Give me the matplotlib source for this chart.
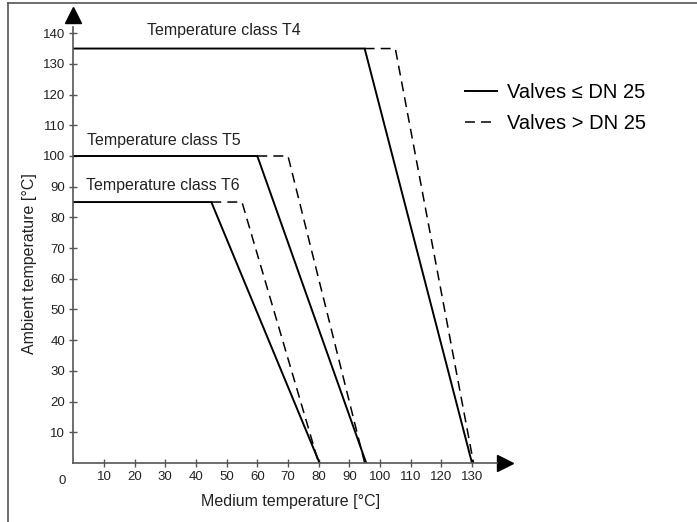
import matplotlib.pyplot as plt
from matplotlib.lines import Line2D

# temperature class curves (medium temp x, ambient temp y)
t4_solid_x = [0, 95, 130]
t4_solid_y = [135, 135, 0]
t4_dash_x = [95, 105, 130.5]
t4_dash_y = [135, 135, 0]

t5_solid_x = [0, 60, 95.5]
t5_solid_y = [100, 100, 0]
t5_dash_x = [60, 70, 95]
t5_dash_y = [100, 100, 0]

t6_solid_x = [0, 45, 80.3]
t6_solid_y = [85, 85, 0]
t6_dash_x = [45, 55, 80]
t6_dash_y = [85, 85, 0]

x_ticks = list(range(10, 140, 10))
y_ticks = list(range(10, 150, 10))
class_labels = ['Temperature class T4', 'Temperature class T5', 'Temperature class T6']
class_label_pos = [(23.9, 141.0), (4.6, 105.2), (4.2, 90.4)]
legend_labels = ['Valves \u2264 DN 25', 'Valves > DN 25']

plt.rcParams['font.family'] = ['Liberation Sans', 'DejaVu Sans']
axis_grey = '#555555'
text_col = '#222222'

fig = plt.figure(figsize=(6.97, 5.22), dpi=100)
ax = fig.add_axes([73.3 / 697, 59 / 522, 435.5 / 697, 451.3 / 522])
ax.set_xlim(0, 142)
ax.set_ylim(0, 147)

solid_kw = dict(color='black', lw=1.4, solid_joinstyle='miter')
dash_kw = dict(color='black', lw=1.1, linestyle=(0, (6.5, 4)))

ax.plot(t4_solid_x, t4_solid_y, **solid_kw)
ax.plot(t4_dash_x, t4_dash_y, **dash_kw)
ax.plot(t5_solid_x, t5_solid_y, **solid_kw)
ax.plot(t5_dash_x, t5_dash_y, **dash_kw)
ax.plot(t6_solid_x, t6_solid_y, **solid_kw)
ax.plot(t6_dash_x, t6_dash_y, **dash_kw)

for label, (lx, ly) in zip(class_labels, class_label_pos):
    ax.text(lx, ly, label, fontsize=11.5, va='center', ha='left', color=text_col)

# axes with arrows
for side in ['top', 'right']:
    ax.spines[side].set_visible(False)
for side in ['left', 'bottom']:
    ax.spines[side].set_color(axis_grey)
    ax.spines[side].set_linewidth(1.2)
ax.spines['bottom'].set_bounds(0, 138)
ax.spines['left'].set_bounds(0, 142)
ax.plot(140.8, 0, '>', color='black', markersize=11, clip_on=False)
ax.plot(0, 145.8, '^', color='black', markersize=11, clip_on=False)

ax.set_xticks(x_ticks)
ax.set_yticks(y_ticks)
ax.tick_params(direction='inout', length=6, width=1, color=axis_grey,
               labelsize=9.5, labelcolor=text_col, pad=3)
ax.text(-3.5, -3.8, '0', fontsize=9.5, ha='center', va='top', color=text_col)

ax.set_xlabel('Medium temperature [\u00b0C]', fontsize=11.5, color=text_col, labelpad=8)
ax.set_ylabel('Ambient temperature [\u00b0C]', fontsize=11.5, color=text_col)
ax.yaxis.set_label_coords(-0.084, 0.441)

handles = [Line2D([], [], **solid_kw), Line2D([], [], **dash_kw)]
ax.legend(handles, legend_labels, loc='upper left', bbox_to_anchor=(465 / 697, 1 - 83 / 522),
          bbox_transform=fig.transFigure, frameon=False, fontsize=14.5,
          handlelength=1.6, handletextpad=0.5, labelspacing=0.6, borderpad=0, borderaxespad=0)

# frame lines at the left and top of the picture
fig.add_artist(Line2D([8 / 697, 8 / 697], [0, 1 - 3 / 522], color=axis_grey, lw=1.2))
fig.add_artist(Line2D([8 / 697, 1], [1 - 3 / 522, 1 - 3 / 522], color=axis_grey, lw=1.2))

fig.savefig('out.png', dpi=100)
